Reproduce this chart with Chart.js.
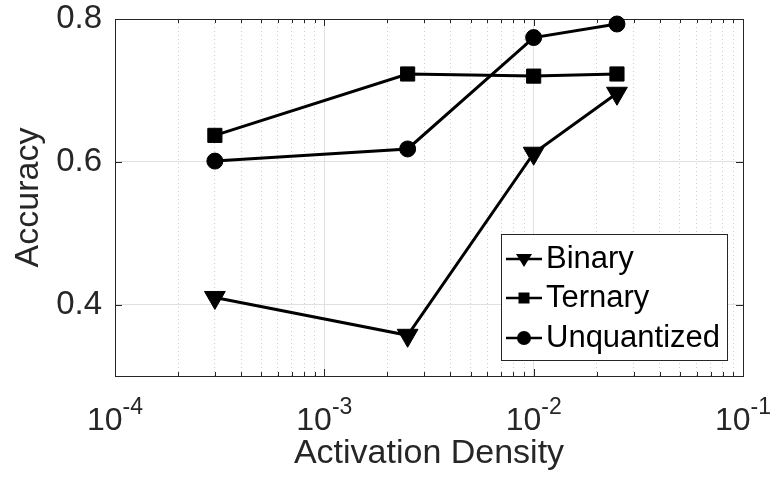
<!DOCTYPE html>
<html><head><meta charset="utf-8">
<script src="https://cdn.jsdelivr.net/npm/chart.js@4/dist/chart.umd.min.js"></script>
<style>html,body{margin:0;padding:0;background:#fff}#wrap{width:776px;height:489px}</style>
</head><body><div id="wrap"><canvas id="c" width="776" height="489"></canvas></div>
<script>
const densities = [3e-4, 2.5e-3, 1e-2, 2.5e-2];
const binary = [0.41, 0.357, 0.612, 0.696];
const ternary = [0.637, 0.723, 0.720, 0.723];
const unquantized = [0.601, 0.618, 0.774, 0.793];
const seriesNames = ['Binary', 'Ternary', 'Unquantized'];
const seriesMarkers = ['triangle', 'rect', 'circle'];
const yTickValues = [0.4, 0.6, 0.8];
const xDecades = [1e-4, 1e-3, 1e-2, 1e-1];
const xTickBases = ['10', '10', '10', '10'];
const xTickExps = ['-4', '-3', '-2', '-1'];

const TXT = '#262626';
const FONT = "'Liberation Sans', Arial, Helvetica, sans-serif";

function pts(ys) { return densities.map((d, i) => ({x: d, y: ys[i]})); }
function isDecade(v) { const l = Math.log10(v); return Math.abs(l - Math.round(l)) < 1e-6; }

const allXTicks = [];
for (let e = -4; e < -1; e++) for (let m = 1; m <= 9; m++) allXTicks.push(m * Math.pow(10, e));
allXTicks.push(1e-1);

const styles = [
  {pointStyle: 'triangle', pointRadius: 12, pointRotation: 180},
  {pointStyle: 'rect', pointRadius: 10, pointRotation: 0},
  {pointStyle: 'circle', pointRadius: 8, pointRotation: 0}
];
const seriesData = [binary, ternary, unquantized];

const datasets = seriesNames.map((n, i) => ({
  label: n,
  data: pts(seriesData[i]),
  borderColor: '#000',
  backgroundColor: '#000',
  pointBackgroundColor: '#000',
  pointBorderColor: '#000',
  borderWidth: 3,
  pointBorderWidth: 1,
  pointStyle: styles[i].pointStyle,
  pointRadius: styles[i].pointRadius,
  pointRotation: styles[i].pointRotation,
  pointHoverRadius: styles[i].pointRadius,
  tension: 0,
  clip: false
}));

const framePlugin = {
  id: 'frame',
  beforeDatasetsDraw(chart) {
    const {ctx, chartArea: a} = chart;
    const xs = chart.scales.x, ys = chart.scales.y;
    ctx.save();
    ctx.strokeStyle = TXT;
    ctx.lineWidth = 1;
    ctx.beginPath();
    allXTicks.forEach(v => {
      const px = Math.round(xs.getPixelForValue(v)) + 0.5;
      const len = isDecade(v) ? 7 : 4;
      ctx.moveTo(px, a.bottom); ctx.lineTo(px, a.bottom - len);
      ctx.moveTo(px, a.top); ctx.lineTo(px, a.top + len);
    });
    yTickValues.forEach(v => {
      const py = Math.round(ys.getPixelForValue(v)) + 0.5;
      ctx.moveTo(a.left, py); ctx.lineTo(a.left + 7, py);
      ctx.moveTo(a.right, py); ctx.lineTo(a.right - 7, py);
    });
    ctx.stroke();
    ctx.strokeRect(Math.round(a.left) + 0.5, Math.round(a.top) + 0.5, Math.round(a.right - a.left), Math.round(a.bottom - a.top));
    ctx.restore();
  },
  afterDraw(chart) {
    const {ctx} = chart;
    const xs = chart.scales.x;
    ctx.save();
    ctx.fillStyle = TXT;
    ctx.textBaseline = 'alphabetic';
    xDecades.forEach((v, i) => {
      const px = xs.getPixelForValue(v);
      ctx.font = '32px ' + FONT;
      const wb = ctx.measureText(xTickBases[i]).width;
      ctx.font = '23px ' + FONT;
      const we = ctx.measureText(xTickExps[i]).width;
      const x0 = px - (wb + we) / 2;
      ctx.font = '32px ' + FONT;
      ctx.textAlign = 'left';
      ctx.fillText(xTickBases[i], x0, 430);
      ctx.font = '23px ' + FONT;
      ctx.fillText(xTickExps[i], x0 + wb, 414);
    });
    // legend
    const box = {x: 501, y: 234, w: 226, h: 126};
    ctx.fillStyle = '#fff';
    ctx.fillRect(box.x, box.y, box.w, box.h);
    ctx.strokeStyle = TXT;
    ctx.lineWidth = 1;
    ctx.strokeRect(box.x + 0.5, box.y + 0.5, box.w, box.h);
    const rows = [259, 298, 338];
    chart.data.datasets.forEach((ds, i) => {
      const y = rows[i];
      ctx.strokeStyle = '#000';
      ctx.lineWidth = 2.5;
      ctx.beginPath(); ctx.moveTo(506, y); ctx.lineTo(542, y); ctx.stroke();
      ctx.fillStyle = '#000';
      const cx = 524;
      ctx.beginPath();
      if (seriesMarkers[i] === 'triangle') {
        ctx.moveTo(cx - 8, y - 5); ctx.lineTo(cx + 8, y - 5); ctx.lineTo(cx, y + 8); ctx.closePath();
      } else if (seriesMarkers[i] === 'rect') {
        ctx.rect(cx - 5.5, y - 5.5, 11, 11);
      } else {
        ctx.arc(cx, y, 7, 0, Math.PI * 2);
      }
      ctx.fill();
      ctx.fillStyle = '#000';
      ctx.font = '31px ' + FONT;
      ctx.textAlign = 'left';
      ctx.textBaseline = 'middle';
      ctx.fillText(ds.label, 546, y);
    });
    ctx.restore();
  }
};

new Chart(document.getElementById('c'), {
  type: 'line',
  data: {datasets},
  options: {
    responsive: false,
    devicePixelRatio: 1,
    animation: false,
    events: [],
    layout: {padding: {left: 0, right: 33, top: 19, bottom: 0}},
    plugins: {legend: {display: false}, tooltip: {enabled: false}},
    scales: {
      x: {
        type: 'logarithmic',
        min: 1e-4, max: 1e-1,
        afterBuildTicks(s) { s.ticks = allXTicks.map(v => ({value: v, major: isDecade(v)})); },
        afterFit(s) { s.height = 113; s.paddingLeft = 0; s.paddingRight = 0; },
        ticks: {display: false},
        grid: {
          drawTicks: false,
          color: c => (c.tick && isDecade(c.tick.value)) ? '#e0e0e0' : '#cdcdcd',
          lineWidth: 1
        },
        border: {
          display: false,
          dash: c => (c.tick && isDecade(c.tick.value)) ? [] : [1, 3]
        },
        title: {display: true, text: 'Activation Density', color: TXT,
          font: {family: FONT, size: 34}, padding: {top: 0, bottom: 15}}
      },
      y: {
        type: 'linear',
        min: 0.3, max: 0.8,
        afterBuildTicks(s) { s.ticks = yTickValues.map(v => ({value: v})); },
        afterFit(s) { s.width = 115; s.paddingTop = 0; s.paddingBottom = 0; },
        ticks: {color: TXT, font: {family: FONT, size: 33, lineHeight: 1}, padding: 13,
          callback: v => v.toFixed(1)},
        grid: {drawTicks: false, color: '#e0e0e0', lineWidth: 1},
        border: {display: false},
        title: {display: true, text: 'Accuracy', color: TXT,
          font: {family: FONT, size: 34}, padding: {top: 8, bottom: 0}}
      }
    }
  },
  plugins: [framePlugin]
});
</script>
</body></html>
